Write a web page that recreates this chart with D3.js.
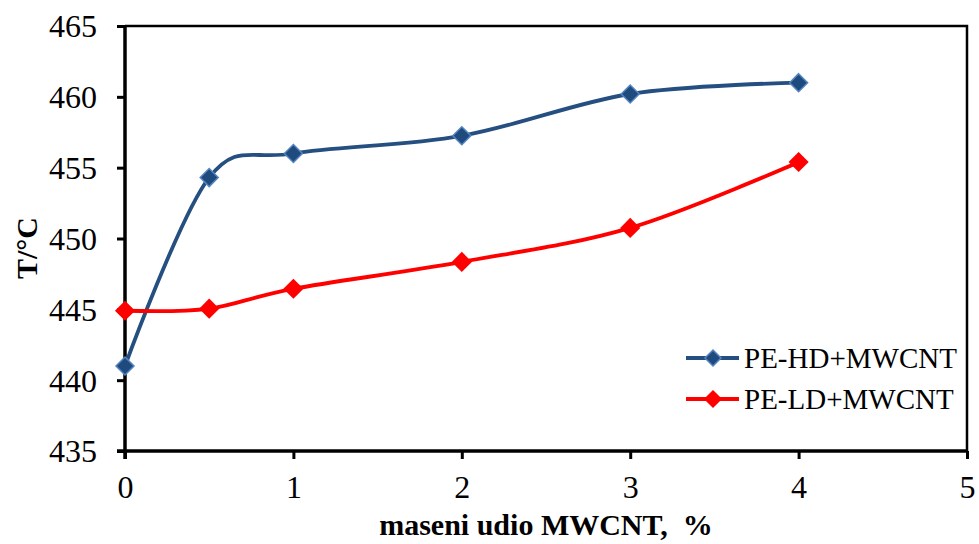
<!DOCTYPE html>
<html>
<head>
<meta charset="utf-8">
<script src="https://cdn.jsdelivr.net/npm/d3@7"></script>
<style>
  html, body { margin: 0; padding: 0; background: #fff; }
  svg { display: block; }
  text { font-family: "Liberation Serif", "Times New Roman", serif; fill: #000; }
</style>
</head>
<body>
<svg id="chart" width="979" height="544"></svg>
<script>
// ---- data ----
const xValues = [0, 0.5, 1, 2, 3, 4];
const hdValues = [441.0, 454.3, 456.0, 457.25, 460.2, 461.0];
const ldValues = [444.9, 445.05, 446.45, 448.35, 450.75, 455.4];
const seriesNames = ["PE-HD+MWCNT", "PE-LD+MWCNT"];
const xTicks = [0, 1, 2, 3, 4, 5];
const yTicks = [435, 440, 445, 450, 455, 460, 465];
const xTitle = "maseni udio MWCNT,\u00A0 %";
const yTitle = "T/\u00B0C";

// ---- layout ----
const svg = d3.select("#chart");
const plotL = 125, plotR = 967, plotT = 26, plotB = 451;

const x = d3.scaleLinear().domain([0, 5]).range([plotL, plotR]);
const y = d3.scaleLinear().domain([435, 465]).range([plotB, plotT]);

// plot frame (top & right)
svg.append("path")
  .attr("d", `M${plotL},${plotT}H${plotR}V${plotB}`)
  .attr("fill", "none").attr("stroke", "#000").attr("stroke-width", 2.5);

// y axis
const yAxis = svg.append("g").attr("transform", `translate(${plotL},0)`)
  .call(d3.axisLeft(y).tickValues(yTicks).tickSize(8).tickPadding(20).tickFormat(d3.format("d")));
yAxis.select(".domain").attr("stroke-width", 3.5).attr("d", `M0,${plotT}V${plotB + 8}`);
yAxis.selectAll(".tick line").attr("stroke-width", 3);
yAxis.selectAll(".tick text").attr("font-size", 32).attr("dy", "0.34em")
  .attr("font-family", "Liberation Serif, serif");

// x axis
const xAxis = svg.append("g").attr("transform", `translate(0,${plotB})`)
  .call(d3.axisBottom(x).tickValues(xTicks).tickSize(8).tickPadding(16).tickFormat(d3.format("d")));
xAxis.select(".domain").attr("stroke-width", 3.5).attr("d", `M${plotL - 8},0H${plotR}`);
xAxis.selectAll(".tick line").attr("stroke-width", 3);
xAxis.selectAll(".tick text").attr("font-size", 32).attr("dy", "0.71em")
  .attr("font-family", "Liberation Serif, serif");

// axis titles
svg.append("text").attr("x", 546).attr("y", 535).attr("text-anchor", "middle")
  .attr("font-size", 30).attr("font-weight", "bold").text(xTitle);
svg.append("text").attr("transform", "translate(37,248) rotate(-90)").attr("text-anchor", "middle")
  .attr("font-size", 30).attr("font-weight", "bold").text(yTitle);

// series
const series = [
  { name: seriesNames[0], values: hdValues, line: "#254F80", fill: "#1F4A7E", edge: "#5585C0" },
  { name: seriesNames[1], values: ldValues, line: "#FF0000", fill: "#FF0000", edge: "#FF0000" }
];

const lineGen = d3.line()
  .x(d => x(d[0])).y(d => y(d[1]))
  .curve(d3.curveCardinal.tension(0));

const diamond = (s) => `M0,${-s}L${s},0L0,${s}L${-s},0Z`;

series.forEach(s => {
  const pts = xValues.map((xv, i) => [xv, s.values[i]]);
  svg.append("path").datum(pts)
    .attr("d", lineGen).attr("fill", "none")
    .attr("stroke", s.line).attr("stroke-width", 3.8).attr("stroke-linecap", "round");
  svg.append("g").selectAll("path").data(pts).join("path")
    .attr("transform", d => `translate(${x(d[0])},${y(d[1])})`)
    .attr("d", diamond(9))
    .attr("fill", s.fill).attr("stroke", s.edge).attr("stroke-width", 1.5);
});

// legend
const legendRows = [358, 399];
series.forEach((s, i) => {
  const ly = legendRows[i];
  svg.append("line").attr("x1", 686).attr("x2", 739).attr("y1", ly).attr("y2", ly)
    .attr("stroke", s.line).attr("stroke-width", 3.8);
  svg.append("path").attr("transform", `translate(713,${ly})`).attr("d", diamond(8))
    .attr("fill", s.fill).attr("stroke", s.edge).attr("stroke-width", 1.5);
  svg.append("text").attr("x", 744).attr("y", ly).attr("dy", "0.35em")
    .attr("font-size", 29).text(s.name);
});
</script>
</body>
</html>
